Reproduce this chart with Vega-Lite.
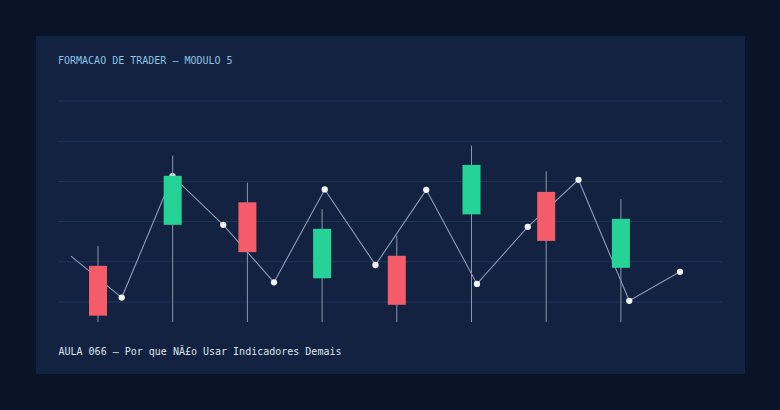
{
  "$schema": "https://vega.github.io/schema/vega-lite/v6.json",
  "width": 709,
  "height": 338,
  "autosize": {"type": "none"},
  "padding": {"left": 36, "top": 36, "right": 35, "bottom": 36},
  "background": "#0a1428",
  "config": {"view": {"fill": "#122240", "stroke": null}},
  "title": {
    "text": "FORMACAO DE TRADER — MODULO 5",
    "anchor": "start",
    "orient": "top",
    "frame": "group",
    "offset": -38,
    "dx": 22,
    "baseline": "alphabetic",
    "font": "DejaVu Sans Mono",
    "fontSize": 10,
    "fontWeight": "normal",
    "color": "#8cc3e4"
  },
  "datasets": {
    "levels": [
      {"level": 100}, {"level": 110}, {"level": 120}, {"level": 130}, {"level": 140}, {"level": 150}
    ],
    "candles": [
      {"t": 62.0, "open": 109.0, "close": 96.6, "high": 113.9, "low": 95},
      {"t": 136.7, "open": 119.2, "close": 131.4, "high": 136.4, "low": 95},
      {"t": 211.4, "open": 124.8, "close": 112.4, "high": 129.7, "low": 95},
      {"t": 286.1, "open": 105.9, "close": 118.2, "high": 123.1, "low": 95},
      {"t": 360.8, "open": 111.5, "close": 99.3, "high": 116.5, "low": 95},
      {"t": 435.5, "open": 121.8, "close": 134.1, "high": 138.9, "low": 95},
      {"t": 510.2, "open": 127.4, "close": 115.2, "high": 132.5, "low": 95},
      {"t": 584.9, "open": 108.5, "close": 120.7, "high": 125.6, "low": 95}
    ],
    "path": [
      {"i": 0, "t": 35.0, "v": 111.4},
      {"i": 1, "t": 85.75, "v": 101.1},
      {"i": 2, "t": 136.5, "v": 131.3},
      {"i": 3, "t": 187.25, "v": 119.2},
      {"i": 4, "t": 238.0, "v": 104.9},
      {"i": 5, "t": 288.75, "v": 128.0},
      {"i": 6, "t": 339.5, "v": 109.2},
      {"i": 7, "t": 390.25, "v": 127.9},
      {"i": 8, "t": 441.0, "v": 104.5},
      {"i": 9, "t": 491.75, "v": 118.7},
      {"i": 10, "t": 542.5, "v": 130.4},
      {"i": 11, "t": 593.25, "v": 100.3},
      {"i": 12, "t": 644.0, "v": 107.5}
    ]
  },
  "resolve": {"scale": {"x": "shared", "y": "shared"}},
  "layer": [
    {
      "data": {"name": "levels"},
      "mark": {"type": "rule", "color": "#22365a", "strokeWidth": 1},
      "encoding": {
        "x": {"datum": 22},
        "x2": {"datum": 686},
        "y": {"field": "level", "type": "quantitative", "scale": {"domain": [82.09, 166.17], "nice": false, "zero": false}, "axis": null}
      }
    },
    {
      "data": {"name": "path"},
      "mark": {"type": "line", "color": "#93a3be", "strokeWidth": 1.1, "opacity": 0.95},
      "encoding": {
        "x": {
          "field": "t",
          "type": "quantitative",
          "scale": {"domain": [0, 709], "nice": false, "zero": false, "padding": 0},
          "axis": {
            "title": "AULA 066 — Por que NÃ£o Usar Indicadores Demais",
            "labels": false,
            "ticks": false,
            "domain": false,
            "grid": false,
            "titleX": 22,
            "titleY": -20,
            "titleAnchor": "start",
            "titleAlign": "left",
            "titleBaseline": "alphabetic",
            "titleFont": "DejaVu Sans Mono",
            "titleFontSize": 10,
            "titleFontWeight": "normal",
            "titleColor": "#dde4ee"
          }
        },
        "y": {"field": "v", "type": "quantitative", "axis": null}
      }
    },
    {
      "data": {"name": "path"},
      "transform": [{"filter": "datum.i > 0"}],
      "mark": {"type": "circle", "color": "#f2f5f9", "size": 40, "opacity": 1},
      "encoding": {
        "x": {"field": "t", "type": "quantitative"},
        "y": {"field": "v", "type": "quantitative", "axis": null}
      }
    },
    {
      "data": {"name": "candles"},
      "mark": {"type": "rule", "color": "#8a97ae", "strokeWidth": 1},
      "encoding": {
        "x": {"field": "t", "type": "quantitative"},
        "y": {"field": "low", "type": "quantitative", "axis": null},
        "y2": {"field": "high"}
      }
    },
    {
      "data": {"name": "candles"},
      "mark": {"type": "bar", "size": 18},
      "encoding": {
        "x": {"field": "t", "type": "quantitative"},
        "y": {"field": "open", "type": "quantitative", "axis": null},
        "y2": {"field": "close"},
        "color": {
          "condition": {"test": "datum.close > datum.open", "value": "#26d396"},
          "value": "#f45c6a"
        }
      }
    }
  ]
}
